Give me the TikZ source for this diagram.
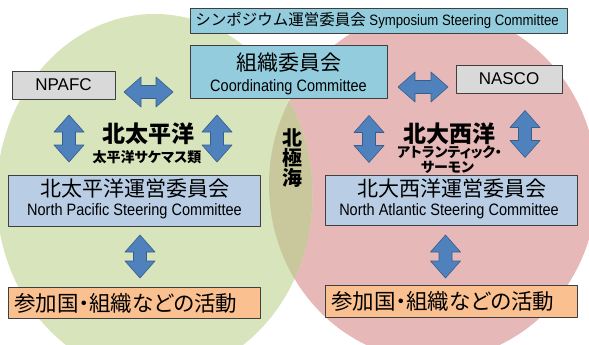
\documentclass[tikz,border=0pt]{standalone}
\usepackage{fontspec}
\setmainfont{Liberation Sans}
\newfontfamily\narrowfont[FakeStretch=0.88]{Liberation Sans}
\newfontfamily\jpfont{Noto Sans CJK JP}
\newfontfamily\jpkana[RawFeature=+palt]{Noto Sans CJK JP}
\definecolor{pacgreen}{HTML}{D7E4BC}
\definecolor{atlpink}{HTML}{E6B9B8}
\definecolor{arcolive}{HTML}{C9C79C}
\definecolor{topblue}{HTML}{93CDDD}
\definecolor{steerblue}{HTML}{B9CDE5}
\definecolor{orggray}{HTML}{D9D9D9}
\definecolor{actorange}{HTML}{FAC090}
\definecolor{edge}{HTML}{3F3F3F}
\definecolor{arrowblue}{HTML}{4F81BD}
\definecolor{arrowedge}{HTML}{385D8A}
\begin{document}
\begin{tikzpicture}[x=1pt,y=-1pt,line join=round,
  box/.style={draw=edge,line width=.8pt,inner sep=0pt,outer sep=0pt},
  en/.style={font=\narrowfont\fontsize{16.5}{16.5}\selectfont,inner sep=0pt},
  jp/.style={font=\jpfont\fontsize{21}{21}\selectfont,inner sep=0pt},
  acttext/.style={font=\jpkana\fontsize{21.5}{21.5}\selectfont,inner sep=0pt,anchor=west},
  ocean/.style={font=\jpfont\bfseries\fontsize{23}{23}\selectfont,inner sep=0pt},
  fish/.style={font=\jpkana\bfseries\fontsize{14}{14}\selectfont,inner sep=0pt},
  dbl/.pic={\filldraw[fill=arrowblue,draw=arrowedge,line width=.6pt]
    (-#1,0)--(17-#1,-15)--(17-#1,-6.5)--(#1-17,-6.5)--(#1-17,-15)--(#1,0)
    --(#1-17,15)--(#1-17,6.5)--(17-#1,6.5)--(17-#1,15)--cycle;}]
  \useasboundingbox (0,0) rectangle (589,345);
  % salmon regions: Pacific, Atlantic and the Arctic overlap
  \fill[atlpink] (433,185) ellipse[x radius=164pt,y radius=175pt];
  \fill[pacgreen] (154.5,195) ellipse[x radius=158pt,y radius=181pt];
  \begin{scope}
    \clip (154.5,195) ellipse[x radius=158pt,y radius=181pt];
    \fill[arcolive] (433,185) ellipse[x radius=164pt,y radius=175pt];
  \end{scope}
  % top: symposium and coordinating committees, the two commissions
  \node[box,fill=topblue,minimum width=377pt,minimum height=25pt] (symp) at (378.5,20.5) {};
  \node[en,font=\narrowfont\fontsize{15}{15}\selectfont] (sympT) at (377,20.5)
    {{\jpfont\fontsize{15.5}{15.5}\selectfont シンポジウム運営委員会} Symposium Steering Committee};
  \node[box,fill=topblue,minimum width=197pt,minimum height=53pt] (coord) at (288.5,71.5) {};
  \node[jp] (coordJ) at (288.5,62.5) {組織委員会};
  \node[en] (coordE) at (288.5,87) {Coordinating Committee};
  \node[box,fill=orggray,minimum width=103pt,minimum height=28pt,
    font=\fontsize{17}{17}\selectfont] (npafc) at (63.5,85) {NPAFC};
  \node[box,fill=orggray,minimum width=106pt,minimum height=28pt,
    font=\fontsize{17}{17}\selectfont] (nasco) at (509,79) {NASCO};
  % ocean names
  \node[ocean] (pacName) at (148.5,134) {北太平洋};
  \node[fish] (pacFish) at (147,157) {太平洋サケマス類};
  \node[ocean] (atlName) at (449,134) {北大西洋};
  \node[fish] (atlFish1) at (449.5,152) {アトランティック・};
  \node[fish] (atlFish2) at (447.5,167) {サーモン};
  \foreach \c [count=\i] in {北,極,海}
    \node[ocean,font=\jpfont\bfseries\fontsize{20}{20}\selectfont] (arctic\i) at (292,117.5+20*\i) {\c};
  % regional steering committees
  \node[box,fill=steerblue,minimum width=252pt,minimum height=51pt] (pacSteer) at (134,200.5) {};
  \node[jp] (pacSteerJ) at (135,189) {北太平洋運営委員会};
  \node[en] (pacSteerE) at (134.5,211.5) {North Pacific Steering Committee};
  \node[box,fill=steerblue,minimum width=252pt,minimum height=50pt] (atlSteer) at (451,200) {};
  \node[jp] (atlSteerJ) at (451.5,189) {北大西洋運営委員会};
  \node[en] (atlSteerE) at (449,211) {North Atlantic Steering Committee};
  % activities of member countries and organisations
  \node[box,fill=actorange,minimum width=252pt,minimum height=31pt] (pacAct) at (134,302.5) {};
  \node[acttext] (pacActT) at (14,303) {参加国・組織などの活動};
  \node[box,fill=actorange,minimum width=252pt,minimum height=32pt] (atlAct) at (451,301) {};
  \node[acttext] (atlActT) at (331,301) {参加国・組織などの活動};
  % block double arrows
  \pic (npafcCoord) at (148.5,92) {dbl=24.5};
  \pic (coordNasco) at (423,87) {dbl=25};
  \foreach \x/\y in {69/138.5,217/138.5,369/139,525/134}
    \pic[rotate=90] at (\x,\y) {dbl=23.5};
  \foreach \x in {140,445.5}
    \pic[rotate=90] at (\x,256.5) {dbl=21.5};
\end{tikzpicture}
\end{document}
